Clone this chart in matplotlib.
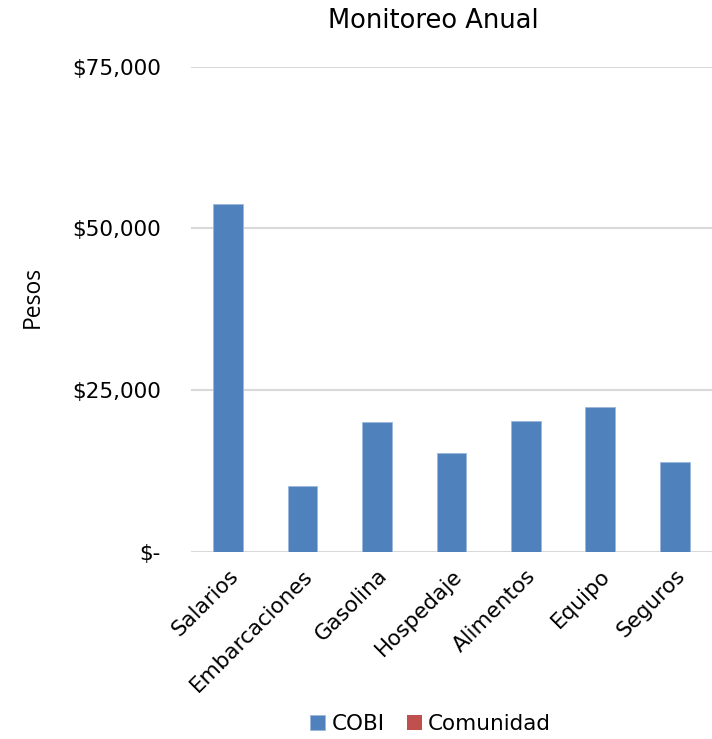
import matplotlib
matplotlib.use("Agg")
import matplotlib.pyplot as plt
import numpy as np
from matplotlib.ticker import FuncFormatter

matplotlib.rcParams.update({
    "font.family": "DejaVu Sans",
    "font.size": 15.5,
})

categories = ["Salarios", "Embarcaciones", "Gasolina", "Hospedaje",
              "Alimentos", "Equipo", "Seguros"]
cobi = [53700, 10150, 20000, 15250, 20150, 22450, 13850]
comunidad = [0, 0, 0, 0, 0, 0, 0]
yticks = [0, 25000, 50000, 75000]

BLUE = "#4f81bd"
RED = "#c0504d"
GRID = "#d9d9d9"


def pesos(v, _pos):
    if v == 0:
        return "$-"
    return f"${v:,.0f}"


fig = plt.figure(figsize=(7.12, 7.39), dpi=100)
ax = fig.add_axes([0.268, 0.2535, 0.732, 0.6562])

x = np.arange(len(categories))
ax.bar(x, cobi, width=0.40, color=BLUE, edgecolor="#9db7dc", linewidth=0.6,
       label="COBI", zorder=3)
ax.bar(x, comunidad, width=0.40, color=RED, label="Comunidad", zorder=3)

ax.set_xlim(-0.5, len(categories) - 0.5)
ax.set_ylim(0, 75000)
ax.set_yticks(yticks)
ax.yaxis.set_major_formatter(FuncFormatter(pesos))
ax.grid(axis="y", color=GRID, linewidth=1.5, zorder=0)
ax.set_axisbelow(True)

for side in ("top", "right", "left", "bottom"):
    ax.spines[side].set_visible(False)
ax.tick_params(axis="both", length=0)
ax.tick_params(axis="y", pad=21.5, labelsize=15.5)

ax.set_xticks(x)
ax.set_xticklabels(categories, rotation=45, ha="right", rotation_mode="anchor",
                   fontsize=15.5)
ax.tick_params(axis="x", pad=10)

fig.text(0.046, 0.598, "Pesos", rotation=90, ha="center", va="center",
         fontsize=16.5, family="Open Sans")
fig.text(0.608, 0.972, "Monitoreo Anual", ha="center", va="center", fontsize=18.5)

fig.legend(loc="center", bbox_to_anchor=(0.605, 0.02), ncol=2, frameon=False,
           handlelength=0.7, handleheight=0.7, handletextpad=0.3,
           columnspacing=1.0, fontsize=15.5)

fig.savefig("out.png", dpi=100)
